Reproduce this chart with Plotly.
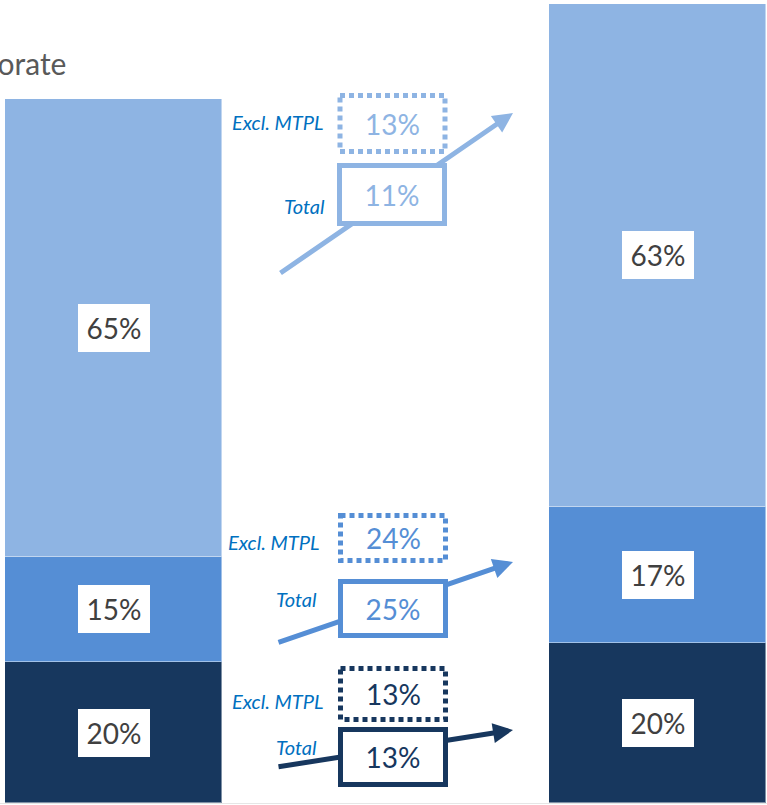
import plotly.graph_objects as go

# ---- data -------------------------------------------------------------
segments = ["Segment C", "Segment B", "Segment A"]          # bottom -> top
segment_colors = ["#17375E", "#558ED5", "#8EB4E3"]

share_start = [20, 15, 65]      # % of total, first bar
share_end = [20, 17, 63]        # % of total, second bar
total_start = 100.0             # indexed size of first bar
total_end = 113.6               # indexed size of second bar

growth_total = [13, 25, 11]     # growth per segment, total
growth_excl = [13, 24, 13]      # growth per segment, excl. MTPL

title_text = "Corporate"
label_total = "Total"
label_excl = "Excl. MTPL"

# ---- page geometry ----------------------------------------------------
W, H = 767, 805
FONT = "Lato"


def px(x):
    return x / W


def py(y):
    return 1 - y / H


# callout layout per segment (bottom, middle, top): pixel positions
callouts = [
    dict(excl=(393, 694, 56), total=(393, 757, 60), arrow=((277, 767), (513, 730)),
         excl_lbl=(326, 701), total_lbl=(319, 747)),
    dict(excl=(393, 538, 50), total=(393, 608.5, 59), arrow=((277, 643), (513, 562)),
         excl_lbl=(322, 542), total_lbl=(319, 599)),
    dict(excl=(392.5, 123.5, 61), total=(392.5, 194.5, 63), arrow=((279, 274), (513, 113)),
         excl_lbl=(326, 122), total_lbl=(327, 206)),
]
BOX_W = 110

fig = go.Figure()

# stacked bars
for i, name in enumerate(segments):
    h0 = share_start[i] * total_start / 100
    h1 = share_end[i] * total_end / 100
    fig.add_trace(go.Bar(
        x=[0, 1], y=[h0, h1], name=name, width=0.399,
        marker=dict(color=segment_colors[i],
                    line=dict(color="rgba(255,255,255,0.45)", width=1)),
        hoverinfo="skip", showlegend=False,
    ))

annotations = []
shapes = []

# value labels in white boxes at each segment centre
for bar_idx, (shares, total) in enumerate([(share_start, total_start), (share_end, total_end)]):
    base = 0.0
    for s in shares:
        h = s * total / 100
        annotations.append(dict(
            x=bar_idx, y=base + h / 2, xref="x", yref="y",
            xanchor="center", yanchor="middle",
            text=f"{s}%", showarrow=False,
            font=dict(family=FONT, size=28, color="#404040"),
            bgcolor="white", borderwidth=0, borderpad=0, width=72, height=48,
        ))
        base += h

# growth arrows
for i, c in enumerate(callouts):
    (x0, y0), (x1, y1) = c["arrow"]
    annotations.append(dict(
        x=px(x1), y=py(y1), xref="paper", yref="paper",
        ax=x0 - x1, ay=y0 - y1, axref="pixel", ayref="pixel",
        text="", showarrow=True, arrowhead=2, arrowsize=0.8,
        arrowwidth=5, arrowcolor=segment_colors[i],
    ))

# growth boxes and labels
for i, c in enumerate(callouts):
    col = segment_colors[i]
    ex, ey, eh = c["excl"]
    shapes.append(dict(
        type="rect", xref="paper", yref="paper",
        x0=px(ex - BOX_W / 2 + 2.5), x1=px(ex + BOX_W / 2 - 2.5),
        y0=py(ey - eh / 2 + 2.5), y1=py(ey + eh / 2 - 2.5),
        line=dict(color=col, width=5, dash="5px,4px"), fillcolor="white",
        layer="above",
    ))
    annotations.append(dict(
        x=px(ex), y=py(ey), xref="paper", yref="paper",
        xanchor="center", yanchor="middle",
        text=f"{growth_excl[i]}%", showarrow=False,
        font=dict(family=FONT, size=28, color=col),
    ))
    tx, ty, th = c["total"]
    annotations.append(dict(
        x=px(tx), y=py(ty), xref="paper", yref="paper",
        xanchor="center", yanchor="middle",
        text=f"{growth_total[i]}%", showarrow=False,
        font=dict(family=FONT, size=28, color=col),
        bgcolor="white", bordercolor=col, borderwidth=5, borderpad=0,
        width=BOX_W - 10, height=th - 10,
    ))
    lx, ly = c["excl_lbl"]
    annotations.append(dict(
        x=px(lx), y=py(ly), xref="paper", yref="paper",
        xanchor="right", yanchor="middle",
        text=f"<i>{label_excl}</i>", showarrow=False,
        font=dict(family=FONT, size=20, color="#0070C0"),
    ))
    lx, ly = c["total_lbl"]
    annotations.append(dict(
        x=px(lx), y=py(ly), xref="paper", yref="paper",
        xanchor="right", yanchor="middle",
        text=f"<i>{label_total}</i>", showarrow=False,
        font=dict(family=FONT, size=20, color="#0070C0"),
    ))

# heading
annotations.append(dict(
    x=px(68), y=py(63), xref="paper", yref="paper",
    xanchor="right", yanchor="middle",
    text=title_text, showarrow=False,
    font=dict(family=FONT, size=30, color="#595959"),
))

scale = 7.037   # pixels per index point
y_min = -(H - 803) / scale
y_max = y_min + H / scale
x_unit = 544.0  # pixels between bar centres
x_min = -113.5 / x_unit
x_max = x_min + W / x_unit

fig.update_layout(
    width=W, height=H,
    margin=dict(l=0, r=0, t=0, b=0),
    paper_bgcolor="white", plot_bgcolor="white",
    barmode="stack", bargap=0,
    xaxis=dict(range=[x_min, x_max], visible=False, fixedrange=True),
    yaxis=dict(range=[y_min, y_max], showgrid=False, showticklabels=False,
               zeroline=True, zerolinecolor="#E6E6E6", zerolinewidth=1,
               fixedrange=True),
    annotations=annotations,
    shapes=shapes,
    showlegend=False,
)

fig.write_html("out.html", config={"displayModeBar": False})
